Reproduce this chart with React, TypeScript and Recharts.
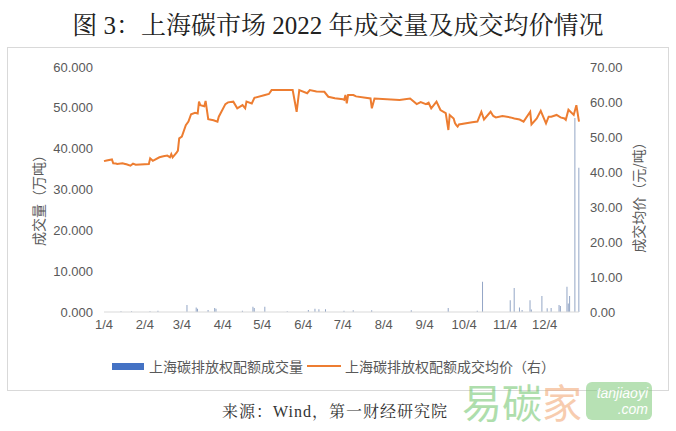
import { ComposedChart, Bar, Line, XAxis, YAxis } from "recharts";

const monthTicks = ["1/4", "2/4", "3/4", "4/4", "5/4", "6/4", "7/4", "8/4", "9/4", "10/4", "11/4", "12/4"];

// 上海碳排放权配额成交均价（元/吨）
const priceDates = [
  "1/4", "1/6", "1/10", "1/11", "1/13", "1/14", "1/18", "1/20", "1/21", "1/24", "1/26", "1/28",
  "2/7", "2/8", "2/10", "2/15", "2/18", "2/21", "2/23", "2/24", "2/25", "2/28",
  "3/1", "3/2", "3/4", "3/7", "3/9", "3/11", "3/14", "3/16", "3/17", "3/18", "3/21", "3/22", "3/24", "3/28", "3/31",
  "4/1", "4/6", "4/8", "4/12", "4/15", "4/19", "4/21", "4/22", "4/26", "4/28",
  "5/6", "5/9", "5/11", "5/27", "5/30",
  "6/1", "6/7", "6/9", "6/14", "6/20", "6/23", "6/28",
  "7/4", "7/5", "7/6", "7/7", "7/8", "7/12", "7/14", "7/25", "7/26", "7/28",
  "8/16", "8/24", "8/29",
  "9/1", "9/5", "9/7", "9/9", "9/13", "9/16", "9/20", "9/22", "9/23", "9/26", "9/27", "9/28", "9/29", "9/30",
  "10/10", "10/14", "10/17", "10/19", "10/24", "10/26", "10/28",
  "11/2", "11/8", "11/11", "11/15", "11/18", "11/23", "11/24", "11/28",
  "12/1", "12/5", "12/7", "12/9", "12/13", "12/16", "12/19", "12/20", "12/22", "12/26", "12/28", "12/30",
];
const priceValues = [
  43.1, 43.3, 43.6, 42.5, 42.4, 42.3, 42.5, 42.3, 42.2, 41.8, 42.4, 42.1,
  42.3, 43.9, 43.2, 44.2, 44.5, 44.7, 44.2, 45.1, 44.2, 45.5,
  46.1, 49.6, 50.1, 53.4, 54.4, 56.5, 56.9, 56.7, 60.1, 59.1, 58.8, 60.3, 55.1, 54.8, 54.4,
  55.8, 59.4, 59.9, 60.1, 58.2, 59.1, 58.2, 60.1, 59.6, 61.2,
  62.0, 62.3, 63.4, 63.4, 57.2,
  63.4, 62.5, 63.4, 63.0, 62.9, 61.5, 61.1,
  60.8, 60.6, 62.0, 59.6, 62.0, 62.0, 61.6, 61.0, 58.2, 61.0,
  60.6, 61.0, 59.4,
  60.0, 59.4, 59.8, 58.2, 60.1, 57.7, 56.8, 52.0, 56.3, 55.3, 54.0, 53.4, 53.0, 53.6,
  54.2, 54.4, 57.2, 55.0, 57.2, 56.0, 55.6,
  56.0, 55.6, 55.3, 55.0, 54.4, 57.2, 53.6, 55.3,
  57.5, 53.9, 55.8, 55.8, 56.3, 55.6, 55.3, 54.9, 57.8, 56.3, 59.1, 54.4,
];

// 上海碳排放权配额成交量（万吨）
const volumeDates = [
  "1/17", "1/25", "2/8", "2/14", "3/8", "3/15", "3/16", "3/24", "3/29", "3/30",
  "4/19", "4/27", "4/28", "5/6", "5/23", "6/8", "6/13", "6/16", "6/21",
  "7/5", "7/12", "7/26", "8/25", "9/22", "10/14", "10/18",
  "11/8", "11/11", "11/15", "11/17", "11/23", "11/24",
  "12/2", "12/6", "12/9", "12/15", "12/16", "12/21", "12/22", "12/23", "12/27", "12/30",
];
const volumeValues = [
  0.2, 0.2, 0.2, 0.3, 1.7, 1.1, 0.8, 0.5, 1.0, 0.8,
  0.3, 1.3, 1.0, 1.3, 0.2, 0.5, 0.8, 0.7, 0.7,
  0.3, 0.4, 0.4, 0.4, 1.0, 0.3, 7.4,
  2.9, 5.9, 1.1, 0.5, 2.9, 0.6,
  3.9, 0.9, 1.0, 1.7, 1.5, 6.2, 2.1, 3.9, 47.5, 35.3,
];

const volumeName = "上海碳排放权配额成交量";
const priceName = "上海碳排放权配额成交均价（右）";

const monthStart = [0, 31, 59, 90, 120, 151, 181, 212, 243, 273, 304, 334];
const dayOfYear = (s: string) => {
  const [m, d] = s.split("/").map(Number);
  return monthStart[m - 1] + d;
};
const labelOfDay: Record<number, string> = {};
monthTicks.forEach((t) => (labelOfDay[dayOfYear(t)] = t));

const rowsByDay: Record<number, { day: number; price?: number; volume?: number }> = {};
priceDates.forEach((d, i) => {
  const k = dayOfYear(d);
  rowsByDay[k] = { ...(rowsByDay[k] || { day: k }), price: priceValues[i] };
});
volumeDates.forEach((d, i) => {
  const k = dayOfYear(d);
  rowsByDay[k] = { ...(rowsByDay[k] || { day: k }), volume: volumeValues[i] };
});
const data = Object.values(rowsByDay).sort((a, b) => a.day - b.day);

const BLUE = "#4472C4";
const BAR = "#93a6c6";
const ORANGE = "#ED7D31";
const GREY = "#595959";
const CJK = "'Noto Sans CJK SC', 'Liberation Sans', sans-serif";
const tickStyle = { fill: GREY, fontSize: 13, fontFamily: "'Liberation Sans', Arial, sans-serif" };

export default function App() {
  return (
    <div style={{ position: "absolute", left: 0, top: 0, width: 676, height: 431, background: "#fff", overflow: "hidden" }}>
      <div
        style={{
          position: "absolute", top: 5, left: 0, width: 676, textAlign: "center",
          fontSize: 25, color: "#222", fontFamily: "'Liberation Serif', 'Noto Serif CJK SC', 'Noto Sans CJK SC', serif",
        }}
      >
        图 3：上海碳市场 2022 年成交量及成交均价情况
      </div>
      <div style={{ position: "absolute", left: 7, top: 47, width: 662, height: 344, border: "1px solid #d9d9d9", boxSizing: "border-box" }} />

      <div style={{ position: "absolute", left: 0, top: 0 }}>
        <ComposedChart width={676} height={431} data={data} margin={{ top: 67, right: 47, bottom: 89, left: 44 }}>
          <XAxis
            dataKey="day"
            type="number"
            domain={[4, 364]}
            ticks={monthTicks.map(dayOfYear)}
            tickFormatter={(v: number) => labelOfDay[v] ?? ""}
            interval={0}
            height={30}
            tickLine={false}
            axisLine={{ stroke: "#d9d9d9" }}
            tick={tickStyle}
          />
          <YAxis
            yAxisId="left"
            width={60}
            domain={[0, 60]}
            ticks={[0, 10, 20, 30, 40, 50, 60]}
            tickFormatter={(v: number) => v.toFixed(3)}
            axisLine={false}
            tickLine={false}
            tickMargin={5}
            tick={tickStyle}
          />
          <YAxis
            yAxisId="right"
            orientation="right"
            width={50}
            domain={[0, 70]}
            ticks={[0, 10, 20, 30, 40, 50, 60, 70]}
            tickFormatter={(v: number) => v.toFixed(2)}
            axisLine={false}
            tickLine={false}
            tickMargin={5}
            tick={tickStyle}
          />
          <Bar yAxisId="left" dataKey="volume" name={volumeName} fill={BAR} barSize={1} isAnimationActive={false} />
          <Line
            yAxisId="right"
            dataKey="price"
            name={priceName}
            type="linear"
            stroke={ORANGE}
            strokeWidth={2}
            dot={false}
            connectNulls
            isAnimationActive={false}
          />
        </ComposedChart>
      </div>

      <div
        style={{
          position: "absolute", left: 38, top: 197, transform: "translate(-50%, -50%) rotate(-90deg)",
          whiteSpace: "nowrap", fontSize: 14, color: GREY, fontFamily: CJK,
        }}
      >
        成交量（万吨）
      </div>
      <div
        style={{
          position: "absolute", left: 638, top: 194, transform: "translate(-50%, -50%) rotate(-90deg)",
          whiteSpace: "nowrap", fontSize: 14, color: GREY, fontFamily: CJK,
        }}
      >
        成交均价（元/吨）
      </div>

      <div
        style={{
          position: "absolute", left: 112, top: 356, display: "flex", alignItems: "center",
          fontSize: 14, color: GREY, fontFamily: CJK, whiteSpace: "nowrap",
        }}
      >
        <span style={{ display: "inline-block", width: 32, height: 7, background: BLUE, marginRight: 5 }} />
        <span>{volumeName}</span>
        <span style={{ display: "inline-block", width: 34, height: 2, background: ORANGE, margin: "0 4px" }} />
        <span>{priceName}</span>
      </div>

      <div
        style={{
          position: "absolute", left: 0, width: 670, top: 399, textAlign: "center", fontSize: 16, color: "#333",
          fontFamily: "'Liberation Serif', 'Noto Serif CJK SC', 'Noto Sans CJK SC', serif", letterSpacing: 1,
        }}
      >
        来源：Wind，第一财经研究院
      </div>

      <div style={{ position: "absolute", left: 462, top: 379, display: "flex", alignItems: "center", opacity: 0.55 }}>
        <span style={{ fontSize: 40, lineHeight: "44px", fontFamily: CJK, color: "#6cc46a" }}>易碳</span>
        <span style={{ fontSize: 40, lineHeight: "44px", fontFamily: CJK, color: "#f2a36e" }}>家</span>
        <span
          style={{
            marginLeft: 4, width: 66, height: 38, background: "#7dca78", borderRadius: 6, color: "#fff",
            fontFamily: "'Liberation Sans', sans-serif", fontStyle: "italic", fontSize: 14, lineHeight: "16px",
            display: "flex", flexDirection: "column", alignItems: "flex-end", justifyContent: "center", paddingRight: 4,
            boxSizing: "border-box",
          }}
        >
          <span>tanjiaoyi</span>
          <span>.com</span>
        </span>
      </div>
    </div>
  );
}
